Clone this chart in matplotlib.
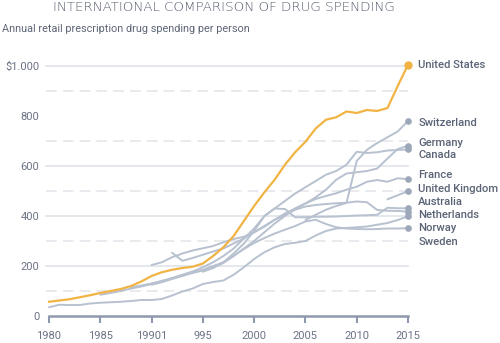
import matplotlib
matplotlib.use("Agg")
import matplotlib.pyplot as plt
import numpy as np

plt.rcParams['font.family'] = ['Roboto', 'DejaVu Sans']

# Retail prescription drug spending per person (USD), one list per country,
# each starting at its own first year and running to 2015
us_start = 1980
us = [57, 62, 67, 75, 83, 92, 100, 108, 120, 138, 160, 175, 185, 192, 197,
      210, 240, 275, 320, 380, 440, 495, 545, 605, 655, 697, 750, 785, 795,
      818, 812, 824, 820, 832, 920, 1005]

switzerland_start = 2005
switzerland = [384, 405, 425, 440, 452, 620, 665, 692, 715, 738, 780]

germany_start = 1992
germany = [253, 221, 232, 245, 258, 270, 290, 310, 335, 360, 385, 410, 430,
           450, 475, 505, 545, 570, 575, 580, 590, 630, 668, 681]

canada_start = 1985
canada = [85, 92, 100, 110, 118, 128, 140, 152, 165, 178, 195, 215, 240, 270,
          310, 350, 400, 430, 460, 490, 515, 540, 565, 580, 605, 657, 652, 655,
          662, 664, 666]

france_start = 1988
france = [115, 122, 130, 140, 150, 163, 175, 185, 200, 215, 240, 270, 300,
          335, 370, 400, 430, 450, 468, 480, 491, 505, 517, 537, 544, 537, 551,
          547]

uk_start = 2013
uk = [467, 483, 499]

australia_start = 1990
australia = [125, 135, 148, 160, 172, 182, 195, 215, 250, 290, 340, 400, 430,
             428, 395, 395, 397, 397, 398, 400, 402, 403, 405, 433, 431, 431]

netherlands_start = 1990
netherlands = [204, 215, 235, 250, 262, 271, 280, 295, 308, 317, 335, 357,
               385, 404, 425, 438, 444, 448, 451, 453, 458, 455, 424, 421, 420,
               418]

norway_start = 1980
norway = [35, 45, 44, 44, 50, 53, 55, 57, 60, 64, 64, 68, 82, 98, 110, 128,
          136, 142, 165, 195, 228, 255, 275, 288, 293, 300, 322, 340, 350, 352,
          355, 358, 365, 372, 384, 399]

sweden_start = 1995
sweden = [177, 192, 212, 240, 268, 292, 312, 330, 345, 360, 378, 385, 368,
          355, 350, 348, 347, 348, 350, 350, 351]

# Right-hand labels, spread out vertically so they don't collide
label_names = ['United States', 'Switzerland', 'Germany', 'Canada', 'France',
               'United Kingdom', 'Australia', 'Netherlands', 'Norway', 'Sweden']
label_y = [1004, 773, 693, 644, 564, 507, 456, 404, 351, 297]

x_ticks = [1980, 1985, 1990, 1995, 2000, 2005, 2010, 2015]
x_tick_labels = ['1980', '1985', '19901', '995', '2000', '2005', '2010', '2015']
y_ticks = [0, 200, 400, 600, 800, 1000]
y_tick_labels = ['0', '200', '400', '600', '800', '$1.000']

ORANGE = '#f1b444'
GRAY_LINE = '#b7c1cf'
GRAY_DOT = '#9ca7b9'
AXIS = '#8e99ad'
TEXT = '#6b7385'

fig = plt.figure(figsize=(5, 3.43), dpi=100)
ax = fig.add_axes([0.098, 0.0787, 0.718, 0.7289])
ax.set_xlim(1980, 2015)
ax.set_ylim(0, 1000)

# solid and dashed horizontal guides
for v in [200, 400, 600, 1000]:
    ax.plot([1979.7, 2015], [v, v], color='#dde1e8', lw=1.1,
            clip_on=False, zorder=0)
for v in [100, 300, 500, 700, 900]:
    ax.plot([1979.7, 2015], [v, v], color='#e1e4ea', lw=1.1,
            dashes=(7, 4), clip_on=False, zorder=0)

gray_series = [
    (switzerland_start, switzerland),
    (germany_start, germany),
    (canada_start, canada),
    (france_start, france),
    (uk_start, uk),
    (australia_start, australia),
    (netherlands_start, netherlands),
    (norway_start, norway),
    (sweden_start, sweden),
]

for start, vals in gray_series:
    yrs = np.arange(start, start + len(vals))
    ax.plot(yrs, vals, color=GRAY_LINE, lw=1.4, solid_capstyle='round',
            clip_on=False, zorder=2)
    ax.plot(yrs[-1], vals[-1], 'o', ms=3.8, color=GRAY_DOT, clip_on=False,
            zorder=3)

us_years = np.arange(us_start, us_start + len(us))
ax.plot(us_years, us, color=ORANGE, lw=1.6, clip_on=False, zorder=4)
ax.plot(us_years[-1], us[-1], 'o', ms=5, color=ORANGE, clip_on=False,
        zorder=5)

for name, y in zip(label_names, label_y):
    ax.text(2016, y, name, va='center', ha='left', fontsize=8.1,
            fontweight='medium', color='#5b6476', clip_on=False)

for side in ['top', 'right', 'left']:
    ax.spines[side].set_visible(False)
ax.spines['bottom'].set_color(AXIS)
ax.spines['bottom'].set_linewidth(1.8)

ax.set_xticks(x_ticks)
ax.set_xticklabels(x_tick_labels)
ax.set_yticks(y_ticks)
ax.set_yticklabels(y_tick_labels)
ax.tick_params(axis='x', direction='out', length=5, width=1.5, color=AXIS,
               labelsize=8, labelcolor=TEXT, pad=6)
ax.tick_params(axis='y', length=0, labelsize=8, labelcolor=TEXT, pad=7)

fig.text(0.447, 0.998, 'INTERNATIONAL COMPARISON OF DRUG SPENDING',
         ha='center', va='top', fontsize=9.6, color='#535b6c',
         family=['DejaVu Sans'], fontweight='light')
fig.text(0.004, 1 - 29 / 343, 'Annual retail prescription drug spending per person',
         ha='left', va='center', fontsize=7.8, color='#5d6576')

fig.savefig('out.png', dpi=100)
